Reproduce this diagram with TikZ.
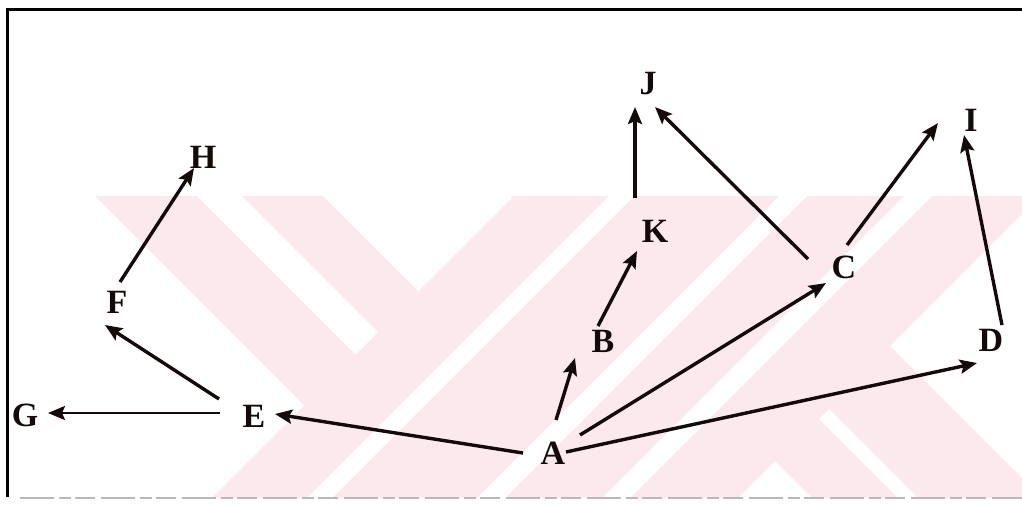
\documentclass[tikz,border=0pt]{standalone}
\usepackage{fontspec}
\setmainfont{Liberation Serif}
\usetikzlibrary{arrows.meta}
\definecolor{wm}{RGB}{252,233,237}
\definecolor{ink}{RGB}{20,10,10}
\begin{document}
\begin{tikzpicture}[x=1pt,y=-1pt,
  lbl/.style={font=\fontsize{34}{34}\selectfont\bfseries, text=ink, inner sep=0pt},
  arr/.style={draw=ink, line width=3.4pt, -{Stealth[length=17pt,width=14pt,inset=3pt]}},
  frameline/.style={line width=3pt, black}]
\useasboundingbox (0,0) rectangle (1022,504);
% watermark
\begin{scope}
  \clip (95,196) rectangle (1022,497);
  \fill[wm] (95,196) -- (323,196) -- (627,500) -- (399,500) -- cycle;
  \fill[wm] (514,196) -- (1040,196) -- (736,500) -- (210,500) -- cycle;
  \fill[wm] (510,196) -- (740,196) -- (1044,500) -- (814,500) -- cycle;
  \fill[white] (197,196) -- (242,196) -- (378,332) -- (355.5,354.5) -- cycle;
  \fill[white] (609,196) -- (634,196) -- (330,500) -- (305,500) -- cycle;
  \fill[white] (779,196) -- (807,196) -- (503,500) -- (475,500) -- cycle;
  \fill[white] (904,196) -- (932,196) -- (628,500) -- (600,500) -- cycle;
  \fill[white] (819,419) -- (829,409) -- (920,500) -- (900,500) -- cycle;
\end{scope}
% frame
\draw[frameline] (7,497) -- (7,9) -- (1022,9);
\draw[gray!55, line width=2.5pt, dash pattern=on 34pt off 5pt on 12pt off 4pt on 20pt off 6pt] (20,498) -- (1022,498);
% nodes
\node[lbl] (A) at (553,453) {A};
\node[lbl] (B) at (603,341) {B};
\node[lbl] (K) at (655,231) {K};
\node[lbl] (J) at (648,84) {J};
\node[lbl] (C) at (844,267) {C};
\node[lbl] (I) at (971,120) {I};
\node[lbl] (D) at (991,340) {D};
\node[lbl] (E) at (254,416) {E};
\node[lbl] (G) at (25,415) {G};
\node[lbl] (F) at (117,302) {F};
\node[lbl] (H) at (203,157) {H};
% connectors
\draw[arr] ([shift={(-30,0)}]A.center) -- ([shift={(21,-2)}]E.center);
\draw[arr] ([shift={(3,-33)}]A.center) -- ([shift={(-28,17)}]B.center);
\draw[arr] ([shift={(27,-18)}]A.center) -- ([shift={(-18,16)}]C.center);
\draw[arr] ([shift={(13,-1)}]A.center) -- ([shift={(-14,23)}]D.center);
\draw[arr] ([shift={(-5,-15)}]B.center) -- ([shift={(-18,20)}]K.center);
\draw[arr] ([shift={(-20,-33)}]K.center) -- ([shift={(-13,23)}]J.center);
\draw[arr] ([shift={(-36,-8)}]C.center) -- ([shift={(7,23)}]J.center);
\draw[arr] ([shift={(3,-22)}]C.center) -- ([shift={(-33,3)}]I.center);
\draw[arr] ([shift={(11,-15)}]D.center) -- ([shift={(-7,15)}]I.center);
\draw[arr] ([shift={(-35,-17)}]E.center) -- ([shift={(-12,23)}]F.center);
\draw[arr, line width=2.6pt] ([shift={(-34,-3)}]E.center) -- ([shift={(23,-2)}]G.center);
\draw[arr] ([shift={(3,-20)}]F.center) -- ([shift={(-9,11)}]H.center);
\end{tikzpicture}
\end{document}
